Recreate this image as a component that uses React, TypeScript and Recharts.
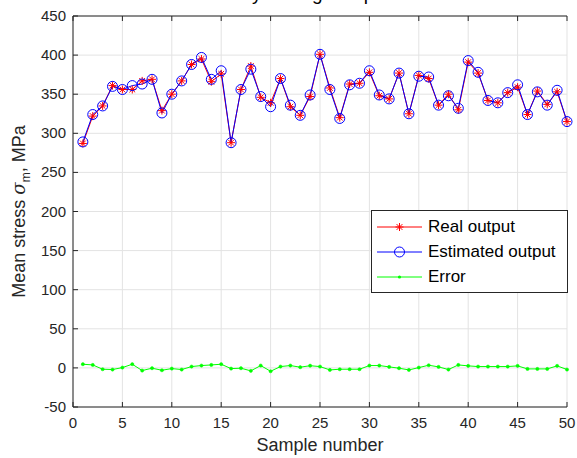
import { LineChart, Line, XAxis, YAxis, CartesianGrid } from 'recharts';

const sampleNo = Array.from({ length: 50 }, (_, i) => i + 1);

const realOutput = [
  287, 322, 335, 361, 356, 356, 367, 369, 329, 350,
  367, 388, 395, 366, 376, 288, 356, 386, 346, 339,
  370, 334, 323, 347, 401, 358, 320, 363, 364, 378,
  348, 344, 377, 325, 374, 370, 336, 350, 330, 391,
  377, 342, 339, 352, 359, 324, 354, 337, 353, 315,
];

const estimatedOutput = [
  289, 324, 335, 360, 356, 361, 363, 369, 326, 350,
  367, 388, 397, 369, 380, 288, 356, 382, 347, 334,
  370, 336, 323, 349, 401, 356, 319, 362, 364, 380,
  349, 344, 377, 325, 373, 372, 336, 348, 332, 393,
  378, 342, 339, 352, 362, 324, 353, 336, 355, 315,
];

const errorValues = [
  4.7, 3.8, -1.7, -2.1, 0.4, 4.7, -3.4, -0.4, -3.0, -0.9,
  -2.1, 1.7, 3.0, 3.8, 4.7, -0.9, -0.4, -3.8, 3.0, -4.3,
  1.7, 3.0, 0.9, 2.8, 1.7, -2.6, -1.7, -1.7, -1.7, 3.0,
  3.0, 1.3, -0.4, -2.6, 0.4, 3.4, 1.3, -2.1, 3.8, 2.6,
  1.7, 1.7, 1.7, 1.7, 2.6, -1.3, -1.3, -1.3, 2.6, -2.1,
];

const xTicks = [0, 5, 10, 15, 20, 25, 30, 35, 40, 45, 50];
const yTicks = [-50, 0, 50, 100, 150, 200, 250, 300, 350, 400, 450];

const data = sampleNo.map((n, i) => ({
  n,
  real: realOutput[i],
  est: estimatedOutput[i],
  err: errorValues[i],
}));

const FONT = '"Liberation Sans", Arial, sans-serif';
const AXIS = '#262626';
const TICK_LEN = 5;

// matlab style: ticks point inward, labels outside
const BottomTick = ({ x, y, payload }: any) => (
  <g>
    <line x1={x} y1={y - 21} x2={x} y2={y - 21 - TICK_LEN} stroke={AXIS} />
    <text x={x} y={y} textAnchor="middle" fontSize={15} fill={AXIS} fontFamily={FONT}>
      {payload.value}
    </text>
  </g>
);

const LeftTick = ({ x, y, payload }: any) => (
  <g>
    <line x1={x + 7} y1={y} x2={x + 7 + TICK_LEN} y2={y} stroke={AXIS} />
    <text x={x} y={y + 5} textAnchor="end" fontSize={15} fill={AXIS} fontFamily={FONT}>
      {payload.value}
    </text>
  </g>
);

const TopTick = ({ x, y }: any) => (
  <line x1={x} y1={y} x2={x} y2={y + TICK_LEN} stroke={AXIS} />
);

const RightTick = ({ x, y }: any) => (
  <line x1={x} y1={y} x2={x - TICK_LEN} y2={y} stroke={AXIS} />
);

const StarDot = ({ cx, cy }: any) => {
  const r = 4;
  const d = r * 0.72;
  return (
    <g stroke="#ff0000" strokeWidth={1}>
      <line x1={cx - r} y1={cy} x2={cx + r} y2={cy} />
      <line x1={cx} y1={cy - r} x2={cx} y2={cy + r} />
      <line x1={cx - d} y1={cy - d} x2={cx + d} y2={cy + d} />
      <line x1={cx - d} y1={cy + d} x2={cx + d} y2={cy - d} />
    </g>
  );
};

const legendItems = [
  { label: 'Real output', color: '#ff0000', marker: 'star' },
  { label: 'Estimated output', color: '#0000ff', marker: 'circle' },
  { label: 'Error', color: '#00ff00', marker: 'dot' },
];

const LegendBox = () => (
  <div
    style={{
      position: 'absolute',
      left: 371,
      top: 210,
      border: `1px solid ${AXIS}`,
      background: '#fff',
      width: 195,
      height: 78,
      fontFamily: FONT,
      fontSize: 17,
      color: '#000',
      paddingTop: 3,
    }}
  >
    {legendItems.map((it) => (
      <div key={it.label} style={{ display: 'flex', alignItems: 'center', height: 25 }}>
        <svg width={56} height={20} style={{ flex: 'none' }}>
          <line x1={5} y1={10} x2={50} y2={10} stroke={it.color} />
          {it.marker === 'star' && <StarDot cx={27.5} cy={10} />}
          {it.marker === 'circle' && <circle cx={27.5} cy={10} r={5} fill="none" stroke={it.color} />}
          {it.marker === 'dot' && <circle cx={27.5} cy={10} r={1.6} fill={it.color} />}
        </svg>
        <span>{it.label}</span>
      </div>
    ))}
  </div>
);

export default function App() {
  return (
    <div style={{ position: 'absolute', left: 0, top: 0, width: 577, height: 458, background: '#fff' }}>
      <LineChart
        width={577}
        height={458}
        data={data}
        margin={{ top: 15, right: 10, bottom: 0, left: 0 }}
        style={{ fontFamily: FONT }}
      >
        <CartesianGrid stroke="#e3e3e3" strokeWidth={1} />
        <XAxis
          dataKey="n"
          type="number"
          domain={[0, 50]}
          ticks={xTicks}
          height={51}
          tickSize={0}
          tickMargin={21}
          tickLine={false}
          stroke={AXIS}
          tick={<BottomTick />}
          label={{
            content: ({ viewBox }: any) => (
              <text
                x={viewBox.x + viewBox.width / 2}
                y={viewBox.y + 44}
                textAnchor="middle"
                fontSize={18}
                fill={AXIS}
                fontFamily={FONT}
              >
                Sample number
              </text>
            ),
          }}
        />
        <XAxis
          xAxisId="top"
          dataKey="n"
          type="number"
          orientation="top"
          domain={[0, 50]}
          ticks={xTicks}
          height={1}
          tickSize={0}
          tickMargin={0}
          tickLine={false}
          stroke={AXIS}
          tick={<TopTick />}
          label={{
            // the title sits above the frame; only its descenders reach into view
            content: ({ viewBox }: any) => (
              <text
                x={viewBox.x + viewBox.width / 2}
                y={0}
                textAnchor="middle"
                fontSize={19}
                fill="#000"
                fontFamily={FONT}
              >
                by testing samples
              </text>
            ),
          }}
        />
        <YAxis
          type="number"
          domain={[-50, 450]}
          ticks={yTicks}
          width={73}
          tickSize={0}
          tickMargin={7}
          tickLine={false}
          stroke={AXIS}
          tick={<LeftTick />}
          label={{
            content: ({ viewBox }: any) => {
              const cx = 25;
              const cy = viewBox.y + viewBox.height / 2;
              return (
                <text
                  x={cx}
                  y={cy}
                  transform={`rotate(-90 ${cx} ${cy})`}
                  textAnchor="middle"
                  fontSize={18}
                  fill={AXIS}
                  fontFamily={FONT}
                >
                  Mean stress <tspan fontStyle="italic" fontFamily="'DejaVu Serif', serif">σ</tspan>
                  <tspan fontSize={12} dy={5}>m</tspan>
                  <tspan dy={-5}>, MPa</tspan>
                </text>
              );
            },
          }}
        />
        <YAxis
          yAxisId="right"
          type="number"
          orientation="right"
          domain={[-50, 450]}
          ticks={yTicks}
          width={0}
          tickSize={0}
          tickMargin={0}
          tickLine={false}
          stroke={AXIS}
          tick={<RightTick />}
        />
        <Line
          dataKey="real"
          stroke="#ff0000"
          strokeWidth={1}
          dot={<StarDot />}
          activeDot={false}
          isAnimationActive={false}
        />
        <Line
          dataKey="est"
          stroke="#0000ff"
          strokeWidth={1}
          dot={{ r: 5, fill: 'none', stroke: '#0000ff', strokeWidth: 1 }}
          activeDot={false}
          isAnimationActive={false}
        />
        <Line
          dataKey="err"
          stroke="#00ff00"
          strokeWidth={1}
          dot={{ r: 1.6, fill: '#00ff00', stroke: '#00ff00', strokeWidth: 0.5 }}
          activeDot={false}
          isAnimationActive={false}
        />
      </LineChart>
      <LegendBox />
    </div>
  );
}
